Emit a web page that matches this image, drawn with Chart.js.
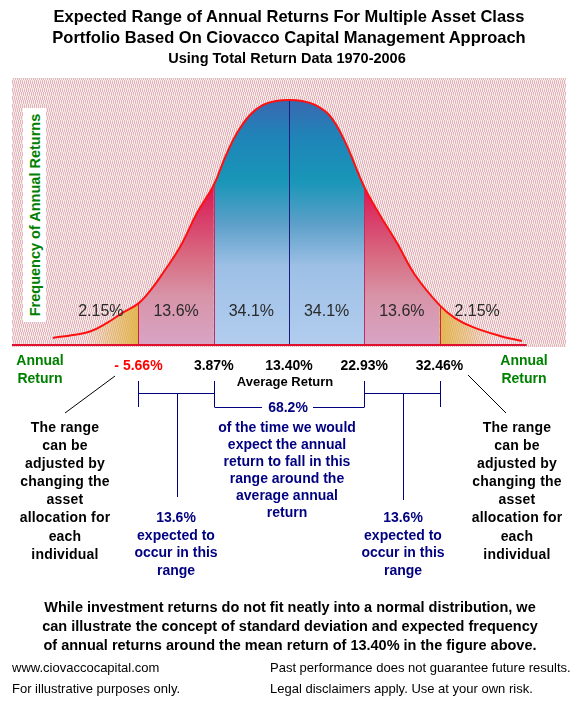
<!DOCTYPE html>
<html>
<head>
<meta charset="utf-8">
<script src="https://cdn.jsdelivr.net/npm/chart.js@4.4.0/dist/chart.umd.min.js"></script>
<style>
  body { margin: 0; background: #fff; }
  #wrap { position: relative; width: 581px; height: 705px; overflow: hidden;
          font-family: "Liberation Sans", Arial, sans-serif; }
  #wrap canvas { position: absolute; left: 0; top: 0; }
  .t { position: absolute; white-space: nowrap; text-align: center; transform: translateX(-50%); z-index: 2; }
  .c { transform: translate(-50%, -50%); line-height: 1; }
  .title { font-weight: bold; font-size: 16.5px; color: #000; }
  .green { color: #008000; font-weight: bold; font-size: 14px; line-height: 18px; }
  .val { font-weight: bold; font-size: 14px; color: #000; }
  .pct { font-size: 16px; color: #2a2a2a; }
  .blk { font-weight: bold; font-size: 14px; color: #000; line-height: 18.1px; letter-spacing: 0.2px; }
  .navy { font-weight: bold; font-size: 14px; color: #000080; }
  .foot { position: absolute; font-size: 13px; line-height: 21px; color: #000; white-space: nowrap; z-index: 2; }
  #ybox { position: absolute; left: 23px; top: 108px; width: 23px; height: 214px; background: #fff; z-index: 1; }
  #ytitle { position: absolute; left: 35px; top: 215px; transform: translate(-50%, -50%) rotate(-90deg);
            color: #008000; font-weight: bold; font-size: 14.5px; white-space: nowrap; z-index: 2; }
</style>
</head>
<body>
<div id="wrap">
  <canvas id="bell" width="581" height="705"></canvas>

  <div class="t title" style="left:289px; top:7px;">Expected Range of Annual Returns For Multiple Asset Class</div>
  <div class="t title" style="left:289px; top:28px;">Portfolio Based On Ciovacco Capital Management Approach</div>
  <div class="t title" style="left:287px; top:50px; font-size:14.5px;">Using Total Return Data 1970-2006</div>

  <div id="ybox"></div>
  <div id="ytitle">Frequency of Annual Returns</div>

  <div class="t green" style="left:40px; top:351px;">Annual<br>Return</div>
  <div class="t green" style="left:524px; top:351px;">Annual<br>Return</div>
  <div class="t val" style="left:285px; top:374px; font-size:13px;">Average Return</div>

  <div class="t navy c" style="left:288px; top:407px;">68.2%</div>

  <div class="t blk" style="left:65px; top:418px;">The range<br>can be<br>adjusted by<br>changing the<br>asset<br>allocation for<br>each<br>individual</div>
  <div class="t blk" style="left:517px; top:418px;">The range<br>can be<br>adjusted by<br>changing the<br>asset<br>allocation for<br>each<br>individual</div>

  <div class="t navy" style="left:287px; top:419px; line-height:17px;">of the time we would<br>expect the annual<br>return to fall in this<br>range around the<br>average annual<br>return</div>

  <div class="t navy" style="left:176px; top:509px; line-height:17.7px;">13.6%<br>expected to<br>occur in this<br>range</div>
  <div class="t navy" style="left:403px; top:509px; line-height:17.7px;">13.6%<br>expected to<br>occur in this<br>range</div>

  <div class="t" style="left:290px; top:598px; font-weight:bold; font-size:14.5px; line-height:19px;">While investment returns do not fit neatly into a normal distribution, we<br>can illustrate the concept of standard deviation and expected frequency<br>of annual returns around the mean return of 13.40% in the figure above.</div>

  <div class="foot" style="left:12px; top:657px;">www.ciovaccocapital.com<br>For illustrative purposes only.</div>
  <div class="foot" style="left:270px; top:657px;">Past performance does not guarantee future results.<br>Legal disclaimers apply. Use at your own risk.</div>
</div>

<script>
// Curve: annual return (%) vs relative frequency (peak = 100)
const returnX = [-16.49, -13.96, -11.80, -9.65, -7.75, -5.66, -4.00, -2.56, -0.40, 1.75,
                 3.87, 5.29, 6.81, 8.46, 10.11, 11.75, 13.40, 15.05, 16.69, 18.59,
                 20.49, 22.93, 24.92, 27.08, 29.36, 32.46, 34.42, 36.70, 40.12, 42.91];
const frequency = [2.9, 4.1, 5.5, 9.0, 13.0, 17.0, 22.9, 29.4, 40.0, 53.9,
                   65.3, 76.5, 86.5, 93.9, 98.0, 99.6, 100, 99.6, 98.0, 93.5,
                   83.0, 64.5, 53.0, 41.6, 28.6, 16.3, 11.0, 7.3, 3.7, 1.6];

// Standard deviation boundaries and the share of returns in each band
const bandBounds = [-5.66, 3.87, 13.40, 22.93, 32.46];
const boundLabels = ['- 5.66%', '3.87%', '13.40%', '22.93%', '32.46%'];
const bandShares = ['2.15%', '13.6%', '34.1%', '34.1%', '13.6%', '2.15%'];

const X_MIN = -21.68, X_MAX = 48.48, Y_MAX = 109;

function makeTexture() {
  const c = document.createElement('canvas');
  c.width = 8; c.height = 8;
  const g = c.getContext('2d');
  g.fillStyle = '#f5efe0';
  g.fillRect(0, 0, 8, 8);
  for (let y = 0; y < 8; y++) {
    for (let x = 0; x < 8; x++) {
      const k = (x + (y >> 2)) % 4;
      if (k === 0 || k === 2) {
        g.fillStyle = (x * 3 + y) % 11 === 0 ? '#d2e4c8' : '#e8b0c8';
        g.fillRect(x, y, 1, 1);
      }
    }
  }
  return c;
}

// one picture holding every band's colouring, used as the fill pattern under the curve
let bandPattern = null;
function bandFill(ctx) {
  const chart = ctx.chart;
  if (!chart.chartArea) return 'rgba(0,0,0,0)';
  if (bandPattern) return bandPattern;
  const c = document.createElement('canvas');
  c.width = chart.width; c.height = chart.height;
  const g = c.getContext('2d');
  const xs = chart.scales.x, ys = chart.scales.y;
  const y0 = ys.getPixelForValue(0), top = chart.chartArea.top;
  const xb = bandBounds.map(b => xs.getPixelForValue(b));

  const yPeak = ys.getPixelForValue(100);
  const cg = g.createLinearGradient(0, yPeak, 0, y0);
  cg.addColorStop(0, '#3a68b0');
  cg.addColorStop(0.15, '#1f84b8');
  cg.addColorStop(0.33, '#1896b8');
  cg.addColorStop(0.5, '#5a9fc8');
  cg.addColorStop(0.68, '#9ec0e6');
  cg.addColorStop(1, '#b2cdee');
  g.fillStyle = cg;
  g.fillRect(xb[1], top, xb[3] - xb[1], y0 - top);

  const sg = g.createLinearGradient(0, ys.getPixelForValue(66), 0, y0);
  sg.addColorStop(0, '#e0104c');
  sg.addColorStop(0.2, '#d83a68');
  sg.addColorStop(0.45, '#d86a80');
  sg.addColorStop(0.7, '#d894a8');
  sg.addColorStop(1, '#d8a4c4');
  g.fillStyle = sg;
  g.fillRect(xb[0], top, xb[1] - xb[0], y0 - top);
  g.fillRect(xb[3], top, xb[4] - xb[3], y0 - top);

  [[xb[0], -1], [xb[4], 1]].forEach(([x0, dir]) => {
    const tg = g.createLinearGradient(x0, 0, x0 + dir * 55, 0);
    tg.addColorStop(0, 'rgba(226,180,70,0.95)');
    tg.addColorStop(0.5, 'rgba(228,182,90,0.55)');
    tg.addColorStop(1, 'rgba(230,190,120,0)');
    g.fillStyle = tg;
    g.fillRect(Math.min(x0, x0 + dir * 55), top, 55, y0 - top);
  });
  bandPattern = chart.ctx.createPattern(c, 'no-repeat');
  return bandPattern;
}

const overlay = {
  id: 'overlay',
  beforeDraw(chart) {
    const { ctx, chartArea: a } = chart;
    ctx.save();
    ctx.fillStyle = ctx.createPattern(makeTexture(), 'repeat');
    ctx.fillRect(a.left, a.top, a.right - a.left, a.bottom - a.top + 2);
    ctx.restore();
  },
  beforeDatasetsDraw(chart) {
    // band dividers, from the baseline up to the curve
    const { ctx } = chart;
    const meta = chart.getDatasetMeta(0);
    const y0 = chart.scales.y.getPixelForValue(0);
    ctx.save();
    ctx.lineWidth = 1;
    bandBounds.forEach((b, i) => {
      const pt = meta.data[returnX.indexOf(b)];
      const px = Math.round(pt.x) + 0.5;
      ctx.strokeStyle = i === 2 ? '#1c1c80' : (i === 0 || i === 4 ? '#d02040' : '#b83068');
      ctx.beginPath();
      ctx.moveTo(px, y0);
      ctx.lineTo(px, pt.y);
      ctx.stroke();
    });
    ctx.restore();
  },
  afterDatasetsDraw(chart) {
    const { ctx } = chart;
    const xs = chart.scales.x;
    const y0 = chart.scales.y.getPixelForValue(0);
    const px = v => Math.round(xs.getPixelForValue(v)) + 0.5;
    ctx.save();
    // red baseline
    ctx.strokeStyle = '#e01030';
    ctx.lineWidth = 2;
    ctx.beginPath();
    ctx.moveTo(chart.chartArea.left, y0);
    ctx.lineTo(xs.getPixelForValue(43.5), y0);
    ctx.stroke();

    // brackets under the return labels
    ctx.strokeStyle = '#000080';
    ctx.lineWidth = 1;
    const a = px(bandBounds[0]), b = px(bandBounds[1]), c = px(bandBounds[3]), d = px(bandBounds[4]);
    const seg = (x1, y1, x2, y2) => { ctx.beginPath(); ctx.moveTo(x1, y1); ctx.lineTo(x2, y2); ctx.stroke(); };
    [a, b, c, d].forEach(x => seg(x, 381, x, 407));
    seg(a, 393.5, b, 393.5);
    seg(c, 393.5, d, 393.5);
    const lm = Math.round((a + b) / 2) + 0.5, rm = Math.round((c + d) / 2) + 0.5;
    seg(lm, 393.5, lm, 497);
    seg(rm, 393.5, rm, 500);
    seg(b, 407.5, 262, 407.5);
    seg(313, 407.5, c, 407.5);

    // thin diagonal pointers
    ctx.strokeStyle = '#000';
    seg(115, 376, 65, 413);
    seg(468, 375, 506, 413);
    ctx.restore();
  }
};

const chart = new Chart(document.getElementById('bell'), {
  type: 'line',
  data: {
    datasets: [{
      data: returnX.map((x, i) => ({ x: x, y: frequency[i] })),
      fill: 'origin',
      backgroundColor: bandFill,
      borderColor: '#ff1010',
      borderWidth: 2,
      pointRadius: 0,
      tension: 0.4
    }]
  },
  options: {
    responsive: false,
    animation: false,
    devicePixelRatio: 1,
    events: [],
    layout: { padding: { left: 12, top: 78, right: 15, bottom: 360 } },
    scales: {
      x: { type: 'linear', min: X_MIN, max: X_MAX, display: false },
      y: { min: 0, max: Y_MAX, display: false }
    },
    plugins: {
      legend: { display: false },
      tooltip: { enabled: false },
      filler: { drawTime: 'beforeDatasetsDraw' }
    }
  },
  plugins: [overlay]
});

// labels that sit on the x scale
const wrap = document.getElementById('wrap');
const xs = chart.scales.x;
function addLabel(text, x, y, cls, color) {
  const el = document.createElement('div');
  el.className = 't c ' + cls;
  el.textContent = text;
  el.style.left = x + 'px';
  el.style.top = y + 'px';
  if (color) el.style.color = color;
  wrap.appendChild(el);
}
boundLabels.forEach((txt, i) => {
  addLabel(txt, xs.getPixelForValue(bandBounds[i]), 365, 'val', i === 0 ? '#ff0000' : null);
});
const sd = bandBounds[1] - bandBounds[0];
const shareAt = [bandBounds[0] - sd / 2];
for (let i = 0; i < bandBounds.length - 1; i++) shareAt.push((bandBounds[i] + bandBounds[i + 1]) / 2);
shareAt.push(bandBounds[4] + sd / 2);
bandShares.forEach((txt, i) => addLabel(txt, xs.getPixelForValue(shareAt[i]), 311, 'pct'));
</script>
</body>
</html>
